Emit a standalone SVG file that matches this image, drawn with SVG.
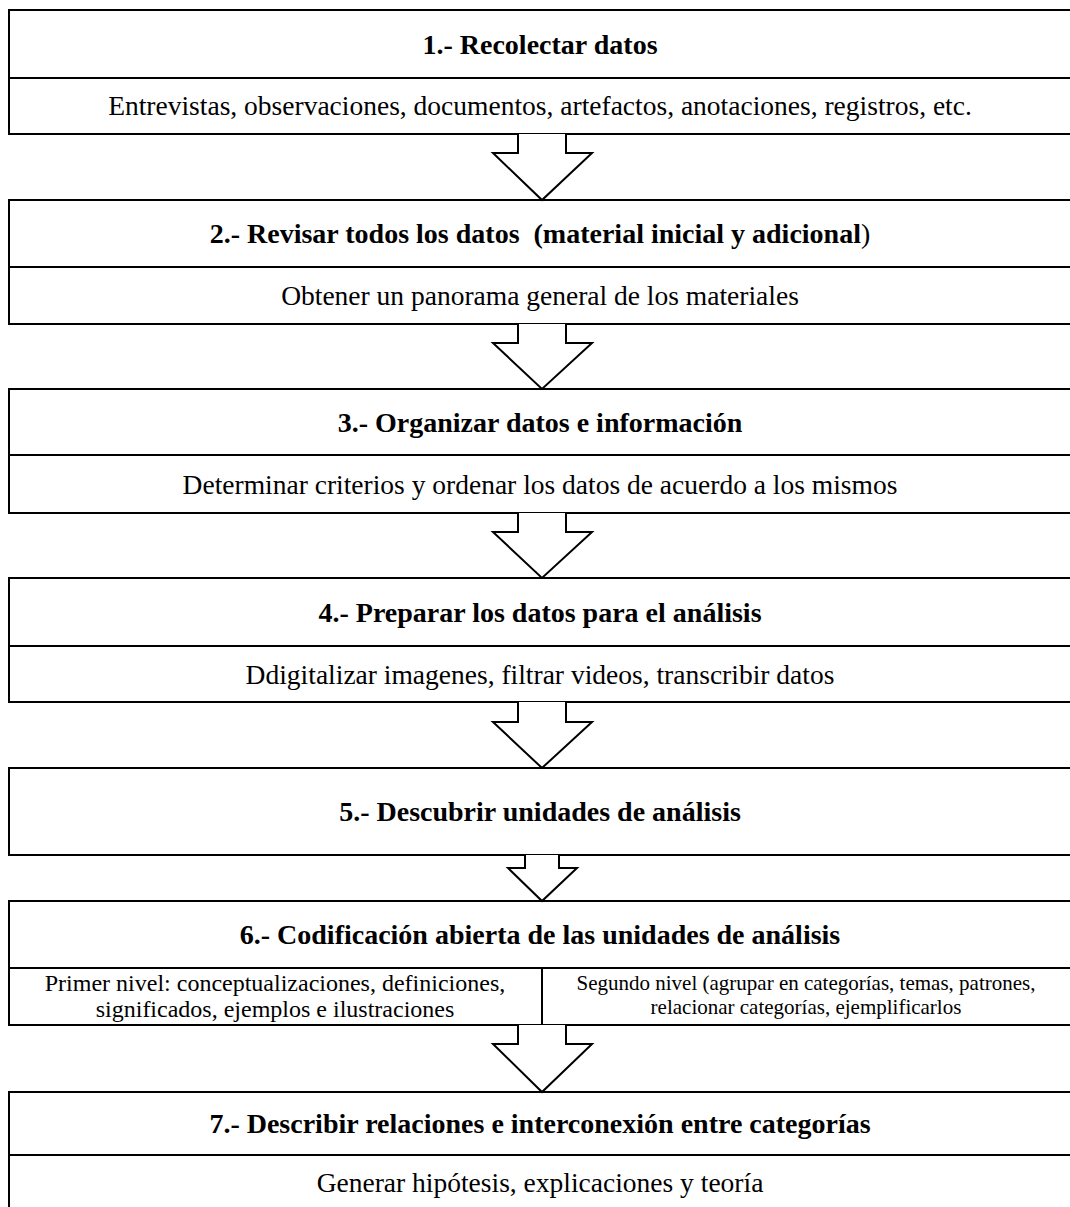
<svg xmlns="http://www.w3.org/2000/svg" width="1070" height="1207" viewBox="0 0 1070 1207">
<style>
.box{fill:#fff;stroke:#000;stroke-width:2}
.div{stroke:#000;stroke-width:2;fill:none}
.arr{fill:#fff;stroke:#000;stroke-width:2;stroke-linejoin:miter}
.t{font-family:"Liberation Serif","Times New Roman",serif;font-size:28px;font-weight:bold;text-anchor:middle;fill:#000;white-space:pre}
.b{font-family:"Liberation Serif","Times New Roman",serif;font-size:27.5px;text-anchor:middle;fill:#000}
.s1{font-family:"Liberation Serif","Times New Roman",serif;font-size:24px;text-anchor:middle;fill:#000}
.s2{font-family:"Liberation Serif","Times New Roman",serif;font-size:21px;text-anchor:middle;fill:#000}
</style>
<rect width="1070" height="1207" fill="#fff"/>
<g id="node1">
<rect class="box" x="9" y="10" width="1075" height="124"/>
<line class="div" x1="9" y1="78" x2="1084" y2="78"/>
<text class="t" x="540" y="54">1.- Recolectar datos</text>
<text class="b" x="540" y="115">Entrevistas, observaciones, documentos, artefactos, anotaciones, registros, etc.</text>
</g>
<g id="node2">
<rect class="box" x="9" y="200" width="1075" height="124"/>
<line class="div" x1="9" y1="267" x2="1084" y2="267"/>
<text class="t" x="540" y="243" xml:space="preserve">2.- Revisar todos los datos  (material inicial y adicional<tspan font-weight="normal">)</tspan></text>
<text class="b" x="540" y="305">Obtener un panorama general de los materiales</text>
</g>
<g id="node3">
<rect class="box" x="9" y="389" width="1075" height="124"/>
<line class="div" x1="9" y1="455" x2="1084" y2="455"/>
<text class="t" x="540" y="432">3.- Organizar datos e información</text>
<text class="b" x="540" y="494">Determinar criterios y ordenar los datos de acuerdo a los mismos</text>
</g>
<g id="node4">
<rect class="box" x="9" y="578" width="1075" height="124"/>
<line class="div" x1="9" y1="646" x2="1084" y2="646"/>
<text class="t" x="540" y="622">4.- Preparar los datos para el análisis</text>
<text class="b" x="540" y="684">Ddigitalizar imagenes, filtrar videos, transcribir datos</text>
</g>
<g id="node5">
<rect class="box" x="9" y="768" width="1075" height="87"/>
<text class="t" x="540" y="821">5.- Descubrir unidades de análisis</text>
</g>
<g id="node6">
<rect class="box" x="9" y="901" width="1075" height="124"/>
<line class="div" x1="9" y1="968" x2="1084" y2="968"/>
<line class="div" x1="542" y1="968" x2="542" y2="1025"/>
<text class="t" x="540" y="944">6.- Codificación abierta de las unidades de análisis</text>
<text class="s1" x="275" y="991">Primer nivel: conceptualizaciones, definiciones,</text>
<text class="s1" x="275" y="1017">significados, ejemplos e ilustraciones</text>
<text class="s2" x="806" y="990">Segundo nivel (agrupar en categorías, temas, patrones,</text>
<text class="s2" x="806" y="1014">relacionar categorías, ejemplificarlos</text>
</g>
<g id="node7">
<rect class="box" x="9" y="1092" width="1075" height="130"/>
<line class="div" x1="9" y1="1155" x2="1084" y2="1155"/>
<text class="t" x="540" y="1133">7.- Describir relaciones e interconexión entre categorías</text>
<text class="b" x="540" y="1192">Generar hipótesis, explicaciones y teoría</text>
</g>
<g id="connectors">
<path class="arr" d="M518,134 V153 H493 L542,200 L592,153 H566 V134"/>
<path class="arr" d="M518,324 V343 H493 L542,389 L592,343 H566 V324"/>
<path class="arr" d="M518,513 V532 H493 L542,578 L592,532 H566 V513"/>
<path class="arr" d="M518,702 V722 H493 L542,768 L592,722 H566 V702"/>
<path class="arr" d="M525,855 V868 H508 L542,901 L577,868 H559 V855"/>
<path class="arr" d="M518,1025 V1044 H493 L542,1092 L592,1044 H566 V1025"/>
</g>
</svg>
